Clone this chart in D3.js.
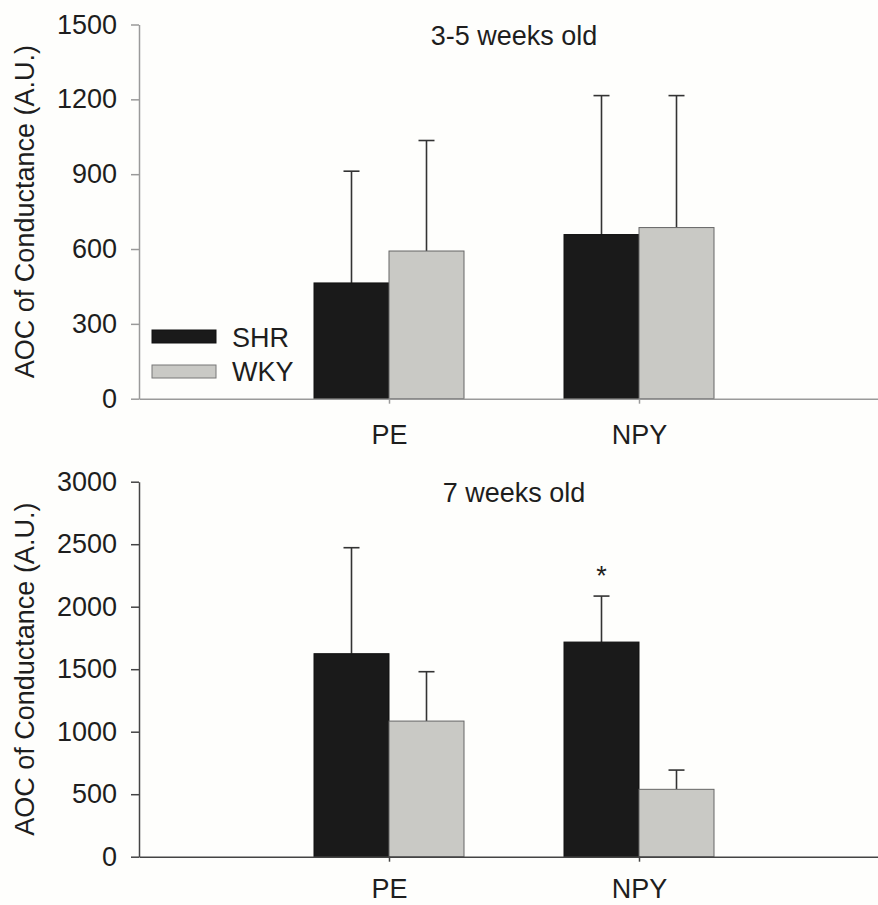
<!DOCTYPE html>
<html>
<head>
<meta charset="utf-8">
<script src="https://cdn.jsdelivr.net/npm/d3@7"></script>
<style>
  html, body { margin: 0; padding: 0; background: #fefefc; }
  svg { display: block; }
  text { font-family: "Liberation Sans", Arial, sans-serif; fill: #1e1e1e; }
</style>
</head>
<body>
<svg id="chart" width="878" height="905"></svg>
<script>
// groups on the x axis and the two strains
const categories = ["PE", "NPY"];
const strains = ["SHR", "WKY"];

// 3-5 weeks old (mean and upper SD)
const youngShr = [464, 658];
const youngShrErr = [448, 557];
const youngWky = [592, 686];
const youngWkyErr = [443, 529];
const youngTicks = [0, 300, 600, 900, 1200, 1500];

// 7 weeks old
const oldShr = [1624, 1717];
const oldShrErr = [848, 368];
const oldWky = [1085, 539];
const oldWkyErr = [395, 154];
const oldTicks = [0, 500, 1000, 1500, 2000, 2500, 3000];
const oldSignificant = [false, true];

const svg = d3.select("#chart");
const fill = {SHR: "#1a1a1a", WKY: "#c9c9c5"};

// shared x layout: group k sits at x(k+1), bars 0.3 units wide
const x = d3.scaleLinear().domain([0, 3]).range([139, 889]);
const barW = 0.3;
const capHalf = 8;

function panel(opts) {
    const y = d3.scaleLinear().domain([0, opts.max]).range(opts.range);
    const g = svg.append("g");

    // bars
    const rows = [];
    categories.forEach((c, i) => {
        rows.push({strain: "SHR", k: i + 1, v: opts.shr[i], e: opts.shrErr[i], off: -barW});
        rows.push({strain: "WKY", k: i + 1, v: opts.wky[i], e: opts.wkyErr[i], off: 0});
    });

    // error bars first so the bar tops sit over them
    const eb = g.selectAll(".err").data(rows).enter().append("g")
        .attr("class", "err")
        .attr("stroke", "#333")
        .attr("stroke-width", 1.6);
    const cx = d => (x(d.k + d.off) + x(d.k + d.off + barW)) / 2;
    eb.append("line")
        .attr("x1", cx).attr("x2", cx)
        .attr("y1", d => y(d.v)).attr("y2", d => y(d.v + d.e));
    eb.append("line")
        .attr("x1", d => cx(d) - capHalf).attr("x2", d => cx(d) + capHalf)
        .attr("y1", d => y(d.v + d.e)).attr("y2", d => y(d.v + d.e));

    g.selectAll(".bar").data(rows).enter().append("rect")
        .attr("class", "bar")
        .attr("x", d => x(d.k + d.off))
        .attr("width", x(barW) - x(0))
        .attr("y", d => y(d.v))
        .attr("height", d => y(0) - y(d.v))
        .attr("fill", d => fill[d.strain])
        .attr("stroke", d => d.strain === "SHR" ? "#111" : "#666")
        .attr("stroke-width", 1);

    // axes
    const yAxis = d3.axisLeft(y).tickValues(opts.ticks).tickFormat(d3.format("d"))
        .tickSize(8).tickPadding(14).tickSizeOuter(0);
    const ya = g.append("g").attr("transform", `translate(${x(0)},0)`).call(yAxis);
    ya.selectAll("text").style("font-size", "27px");

    const xAxis = d3.axisBottom(x).tickValues([1, 2]).tickFormat(d => categories[d - 1])
        .tickSize(5).tickPadding(opts.labelPad).tickSizeOuter(0);
    const xa = g.append("g").attr("transform", `translate(0,${y(0)})`).call(xAxis);
    xa.selectAll("text").style("font-size", "27px");

    g.selectAll(".domain, .tick line").attr("stroke", opts.axisColor).attr("stroke-width", 1.5);

    // y title
    const mid = (opts.range[0] + opts.range[1]) / 2;
    g.append("text")
        .attr("transform", `translate(34,${mid}) rotate(-90)`)
        .attr("text-anchor", "middle")
        .style("font-size", "27px")
        .text("AOC of Conductance (A.U.)");

    // panel title
    g.append("text")
        .attr("x", 514)
        .attr("y", opts.titleY)
        .attr("text-anchor", "middle")
        .style("font-size", "27px")
        .text(opts.title);

    return {g, y};
}

const youngPanel = panel({
    max: 1500, range: [398.7, 24.5], ticks: youngTicks,
    shr: youngShr, shrErr: youngShrErr, wky: youngWky, wkyErr: youngWkyErr,
    title: "3-5 weeks old", titleY: 45, axisColor: "#9a9a9a", labelPad: 21
});

const oldPanel = panel({
    max: 3000, range: [856.7, 481.7], ticks: oldTicks,
    shr: oldShr, shrErr: oldShrErr, wky: oldWky, wkyErr: oldWkyErr,
    title: "7 weeks old", titleY: 502, axisColor: "#444", labelPad: 17
});

// significance marker over SHR bars
categories.forEach((c, i) => {
    if (!oldSignificant[i]) return;
    const cx = (x(i + 1 - barW) + x(i + 1)) / 2;
    oldPanel.g.append("text")
        .attr("x", cx)
        .attr("y", oldPanel.y(oldShr[i] + oldShrErr[i]) - 11)
        .attr("text-anchor", "middle")
        .style("font-size", "27px")
        .text("*");
});

// legend inside the top panel
const legend = youngPanel.g.append("g");
strains.forEach((s, i) => {
    legend.append("rect")
        .attr("x", 152).attr("y", 330 + i * 35)
        .attr("width", 64).attr("height", 13)
        .attr("fill", fill[s])
        .attr("stroke", s === "SHR" ? "#111" : "#777");
    legend.append("text")
        .attr("x", 232).attr("y", 347 + i * 33.5)
        .style("font-size", "27px")
        .text(s);
});
</script>
</body>
</html>
